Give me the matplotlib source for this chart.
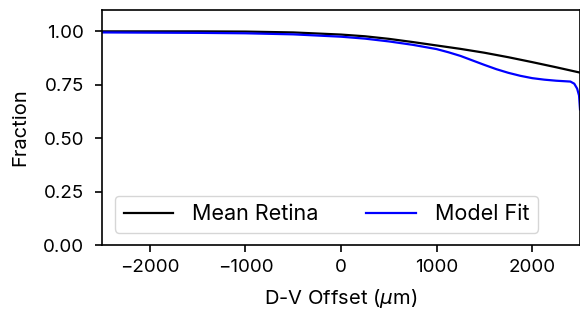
import matplotlib
matplotlib.use("Agg")
import matplotlib.pyplot as plt

plt.rcParams['font.family'] = ['Inter', 'Liberation Sans', 'DejaVu Sans']
plt.rcParams['mathtext.fontset'] = 'dejavusans'

# Mean retina curve
mean_x = [-2500, -2000, -1500, -1000, -500, 0, 250, 500, 750, 1000, 1250,
          1500, 1750, 2000, 2250, 2500]
mean_y = [1.000, 1.000, 1.000, 0.999, 0.995, 0.985, 0.977, 0.965, 0.950,
          0.934, 0.918, 0.900, 0.879, 0.856, 0.832, 0.807]

# Model fit curve
fit_x = [-2500, -2000, -1500, -1000, -500, 0, 250, 500, 750, 1000, 1125,
         1250, 1375, 1500, 1625, 1750, 1875, 2000, 2125, 2250, 2400, 2440,
         2470, 2490, 2500]
fit_y = [0.995, 0.994, 0.993, 0.991, 0.986, 0.975, 0.966, 0.953, 0.937,
         0.917, 0.902, 0.885, 0.864, 0.843, 0.823, 0.806, 0.792, 0.781,
         0.774, 0.769, 0.765, 0.755, 0.732, 0.700, 0.635]

x_ticks = [-2000, -1000, 0, 1000, 2000]
y_ticks = [0.0, 0.25, 0.5, 0.75, 1.0]

fig = plt.figure(figsize=(5.8, 3.17), dpi=100)
ax = fig.add_axes([102/580, 72/317, 478/580, 235/317])

ax.plot(mean_x, mean_y, color='black', lw=1.6, label='Mean Retina')
ax.plot(fit_x, fit_y, color='blue', lw=1.6, label='Model Fit')

ax.set_xlim(-2500, 2500)
ax.set_ylim(0, 1.1)
ax.set_xticks(x_ticks)
ax.set_yticks(y_ticks)
ax.set_yticklabels([f"{v:.2f}" for v in y_ticks])
ax.tick_params(labelsize=13.5, length=5, width=1.2, direction='out')
ax.tick_params(axis='x', pad=5)
ax.tick_params(axis='y', pad=8)
for s in ax.spines.values():
    s.set_linewidth(1.2)

ax.set_xlabel(r'D-V Offset ($\mu$m)', fontsize=14.5, labelpad=8)
ax.set_ylabel('Fraction', fontsize=14.5, labelpad=10)

ax.legend(loc='lower left', bbox_to_anchor=(0.027, 0.052), borderaxespad=0,
          ncol=2, fontsize=15.5, handlelength=2.3, handletextpad=0.9,
          columnspacing=2.2)

fig.savefig('out.png', dpi=100)
